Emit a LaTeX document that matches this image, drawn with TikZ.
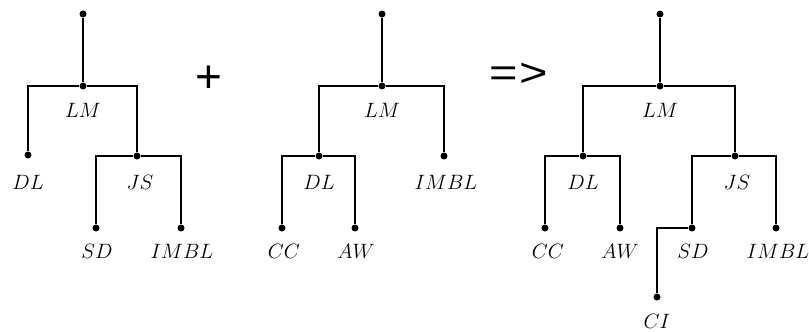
\documentclass[tikz,border=0pt]{standalone}
\usepackage{fontspec}
\newfontfamily\sansf{Liberation Sans}
\begin{document}
\begin{tikzpicture}[x=1pt,y=-1pt,
  edge/.style={line width=2pt},
  dot/.style={circle,fill=black,inner sep=0pt,minimum size=7pt},
  lbl/.style={font=\fontsize{21}{25}\selectfont,inner sep=0pt},
  sym/.style={font=\sansf\fontsize{46}{46}\selectfont,inner sep=0pt}]
\useasboundingbox (0,0) rectangle (809,332);
% ---------- tree 1 ----------
\node[dot] (a0) at (83,14) {};
\node[dot] (aLM) at (83,86) {};
\node[dot] (aDL) at (28,155) {};
\node[dot] (aJS) at (137,156) {};
\node[dot] (aSD) at (96,228) {};
\node[dot] (aIM) at (181,228) {};
\draw[edge] (a0) -- (aLM);
\draw[edge] (aDL) |- (aLM) -| (aJS);
\draw[edge] (aSD) |- (aJS) -| (aIM);
\node[lbl] (taLM) at (83,110) {$LM$};
\node[lbl] (taDL) at (28,182) {$DL$};
\node[lbl] (taJS) at (140,182) {$JS$};
\node[lbl] (taSD) at (97,251) {$SD$};
\node[lbl] (taIM) at (182,251) {$IMBL$};
\node[sym] (plus) at (209,79) {+};
% ---------- tree 2 ----------
\node[dot] (b0) at (382,14) {};
\node[dot] (bLM) at (382,86) {};
\node[dot] (bDL) at (319,156) {};
\node[dot] (bIM) at (444,156) {};
\node[dot] (bCC) at (282,228) {};
\node[dot] (bAW) at (355,228) {};
\draw[edge] (b0) -- (bLM);
\draw[edge] (bDL) |- (bLM) -| (bIM);
\draw[edge] (bCC) |- (bDL) -| (bAW);
\node[lbl] (tbLM) at (382,110) {$LM$};
\node[lbl] (tbDL) at (319,182) {$DL$};
\node[lbl] (tbIM) at (446,182) {$IMBL$};
\node[lbl] (tbCC) at (284,251) {$CC$};
\node[lbl] (tbAW) at (356,251) {$AW$};
\node[font=\sansf\fontsize{40}{40}\selectfont,xscale=1.22] (impl) at (519,75) {=\kern1pt>};
% ---------- tree 3 ----------
\node[dot] (c0) at (660,14) {};
\node[dot] (cLM) at (660,86) {};
\node[dot] (cDL) at (583,156) {};
\node[dot] (cJS) at (735,156) {};
\node[dot] (cCC) at (545,228) {};
\node[dot] (cAW) at (620,228) {};
\node[dot] (cSD) at (692,228) {};
\node[dot] (cIM) at (776,228) {};
\node[dot] (cCI) at (657,297) {};
\draw[edge] (c0) -- (cLM);
\draw[edge] (cDL) |- (cLM) -| (cJS);
\draw[edge] (cCC) |- (cDL) -| (cAW);
\draw[edge] (cSD) |- (cJS) -| (cIM);
\draw[edge] (cCI) |- (cSD);
\node[lbl] (tcLM) at (660,110) {$LM$};
\node[lbl] (tcDL) at (583,182) {$DL$};
\node[lbl] (tcJS) at (737,182) {$JS$};
\node[lbl] (tcCC) at (548,251) {$CC$};
\node[lbl] (tcAW) at (620,251) {$AW$};
\node[lbl] (tcSD) at (693,251) {$SD$};
\node[lbl] (tcIM) at (778,251) {$IMBL$};
\node[lbl] (tcCI) at (657,321) {$CI$};
\end{tikzpicture}
\end{document}
